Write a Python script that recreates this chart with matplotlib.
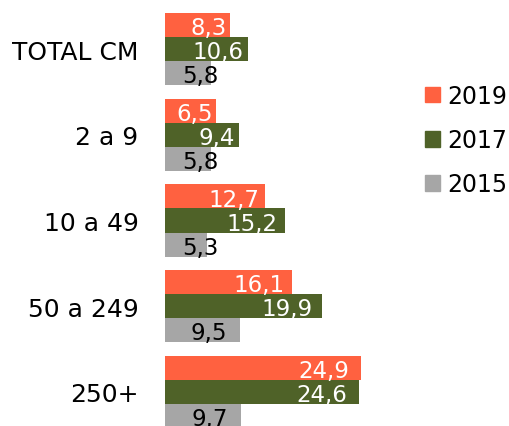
import numpy as np
import matplotlib.pyplot as plt
from matplotlib.patches import Patch

categories = ['TOTAL CM', '2 a 9', '10 a 49', '50 a 249', '250+']
years = ['2019', '2017', '2015']
v2019 = [8.3, 6.5, 12.7, 16.1, 24.9]
v2017 = [10.6, 9.4, 15.2, 19.9, 24.6]
v2015 = [5.8, 5.8, 5.3, 9.5, 9.7]

colors = ['#FF6140', '#4F6228', '#A6A6A6']
text_colors = ['white', 'white', 'black']

fig = plt.figure(figsize=(5.09, 4.27), dpi=100)
ax = fig.add_axes([165 / 509, 0, 245 / 509, 1])

y = np.arange(len(categories))
h = 0.28
series = [v2019, v2017, v2015]
for k, vals in enumerate(series):
    pos = y + (k - 1) * h
    ax.barh(pos, vals, height=h, color=colors[k], edgecolor='none')
    for p, v in zip(pos, vals):
        lbl = f'{v:.1f}'.replace('.', ',')
        if k == 2:
            # grey labels: pushed out past short bars
            ax.text(max(2.2, v - 6.3), p + 0.03, lbl, ha='left', va='center',
                    color=text_colors[k], fontsize=16.5)
        else:
            ax.text(v * 0.94, p + 0.03, lbl, ha='right', va='center',
                    color=text_colors[k], fontsize=16.5)

ax.set_xlim(0, 245 / 7.87)
ax.set_ylim((427 - 50) / 85.75, -50 / 85.75)
ax.set_yticks(y)
ax.set_yticklabels(categories, fontsize=18)
ax.tick_params(axis='y', length=0, pad=19)
ax.set_xticks([])
for s in ax.spines.values():
    s.set_visible(False)

handles = [Patch(color=c) for c in colors]
fig.legend(handles, years, loc='center left', bbox_to_anchor=(425 / 509, 1 - 141 / 427),
           frameon=False, fontsize=17, handlelength=0.64, handleheight=0.64,
           handletextpad=0.3, labelspacing=0.85, borderpad=0, borderaxespad=0)

fig.savefig('out.png', dpi=100)
